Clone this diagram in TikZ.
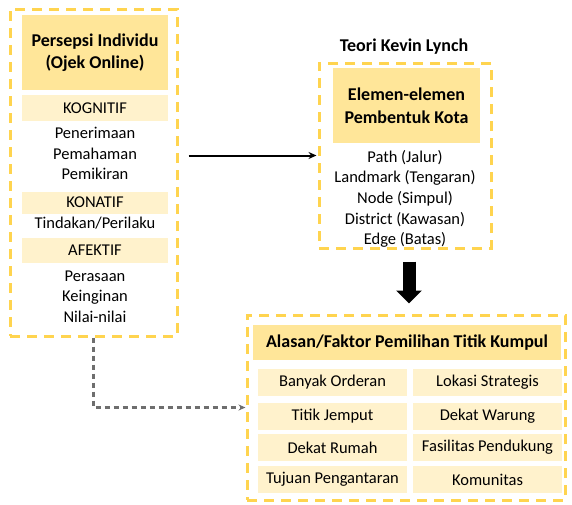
\documentclass[tikz,border=0pt]{standalone}
\usepackage{fontspec}
\setmainfont{Carlito}
\usepackage{xcolor}
\usepackage{tikz}
\usetikzlibrary{arrows.meta, positioning, calc}

\definecolor{goldline}{HTML}{FFD44F}
\definecolor{goldhead}{HTML}{FFE699}
\definecolor{goldsoft}{HTML}{FFF2CC}
\definecolor{linkgray}{HTML}{6E6E6E}

\tikzset{
  panel/.style={draw=goldline, line width=3pt, dash pattern=on 10pt off 7pt, inner sep=0pt},
  headbox/.style={fill=goldhead, inner sep=0pt, align=center,
    font=\fontsize{18}{22.5}\selectfont\bfseries},
  subbox/.style={fill=goldsoft, inner sep=0pt, font=\fontsize{16.5}{18}\selectfont},
  itemtext/.style={inner sep=0pt, font=\fontsize{16.5}{18}\selectfont},
}

\begin{document}
\begin{tikzpicture}[x=1pt, y=-1pt]
  \useasboundingbox (0,0) rectangle (572,504);

  % ---- Left panel: persepsi individu ----
  \node[panel, minimum width=167pt, minimum height=327pt] (persepsi) at (93.5,172.5) {};
  \node[headbox, minimum width=146pt, minimum height=75pt] (judul) at (95,52.5)
    {Persepsi Individu\\(Ojek Online)};
  \node[subbox, minimum width=146pt, minimum height=26pt] (kognitif) at (95,108) {KOGNITIF};
  \node[subbox, minimum width=146pt, minimum height=22pt] (konatif) at (95,202.5) {KONATIF};
  \node[subbox, minimum width=146pt, minimum height=25pt] (afektif) at (95,250.5) {AFEKTIF};
  % sub-items under each aspect
  \foreach \y/\t [count=\i] in {133/Penerimaan, 154/Pemahaman, 174/Pemikiran,
                                223/Tindakan\slash Perilaku,
                                276/Perasaan, 297/Keinginan, 317/Nilai-nilai}
    \node[itemtext] (aspek\i) at (95,\y) {\t};

  % ---- Middle panel: teori Kevin Lynch ----
  \node[font=\fontsize{18}{21}\selectfont\bfseries] (teori) at (404,47) {Teori Kevin Lynch};
  \node[panel, minimum width=172pt, minimum height=185pt] (lynch) at (405,155.5) {};
  \node[headbox, minimum width=147pt, minimum height=75pt] (elemen) at (406.5,105.5)
    {Elemen-elemen\\Pembentuk Kota};
  \foreach \y/\t [count=\i] in {158/Path (Jalur), 178/Landmark (Tengaran),
                                199/Node (Simpul), 220/District (Kawasan),
                                240/Edge (Batas)}
    \node[itemtext] (unsur\i) at (405,\y) {\t};

  % ---- Bottom panel: alasan pemilihan titik kumpul ----
  \node[panel, minimum width=318pt, minimum height=185pt] (alasan) at (406,407.5) {};
  \node[headbox, minimum width=308pt, minimum height=35pt] (faktor) at (407,342.5)
    {Alasan/Faktor Pemilihan Titik Kumpul};
  \foreach \y/\a/\b [count=\i] in {382.5/Banyak Orderan/Lokasi Strategis,
                                   416.5/Titik Jemput/Dekat Warung,
                                   447.5/Dekat Rumah/Fasilitas Pendukung,
                                   479.5/Tujuan Pengantaran/Komunitas}
  {
    \node[subbox, minimum width=149pt, minimum height=27pt] (kiri\i) at (332.5,\y) {\a};
    \node[subbox, minimum width=149pt, minimum height=27pt] (kanan\i) at (487.5,\y) {\b};
  }

  % ---- Connectors ----
  \draw[line width=2pt, -{Stealth[length=8pt, width=7pt]}, shorten <=10pt, shorten >=1pt]
    (lynch.west -| persepsi.east) -- (lynch.west);
  \draw[line width=13pt, -{Triangle[length=13pt, width=25pt]}, shorten <=12pt, shorten >=10pt]
    ([xshift=4pt]lynch.south) -- ([xshift=4pt]lynch.south |- alasan.north);
  \draw[linkgray, line width=2.2pt, dash pattern=on 5pt off 4pt,
        -{Stealth[length=7pt, width=6pt]}]
    (persepsi.south) |- (alasan.west);
\end{tikzpicture}
\end{document}
